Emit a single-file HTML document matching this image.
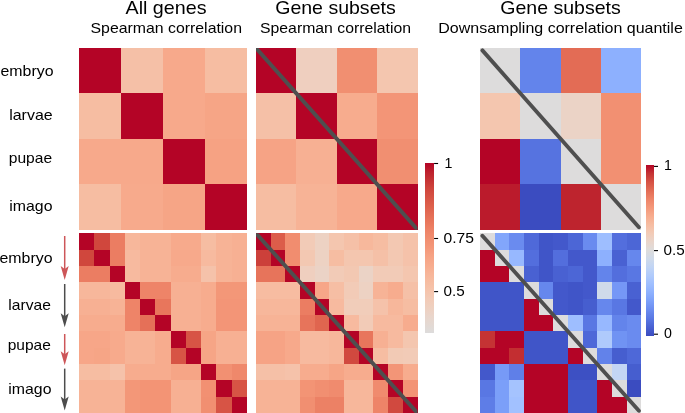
<!DOCTYPE html>
<html><head><meta charset="utf-8"><style>
html,body{margin:0;padding:0;background:#fff;}
body{width:685px;height:413px;overflow:hidden;font-family:"Liberation Sans",sans-serif;}
svg{display:block;}
svg line, svg path, svg text{shape-rendering:geometricPrecision;}
svg{will-change:transform;}
</style></head><body>
<svg width="685" height="413" viewBox="0 0 685 413" shape-rendering="crispEdges"><rect x="79.00" y="48.00" width="42.30" height="45.72" fill="#b40426"/>
<rect x="121.00" y="48.00" width="42.30" height="45.72" fill="#f5c0a7"/>
<rect x="163.00" y="48.00" width="42.30" height="45.72" fill="#f7a98b"/>
<rect x="205.00" y="48.00" width="42.00" height="45.72" fill="#f6bda2"/>
<rect x="79.00" y="93.42" width="42.30" height="45.72" fill="#f6bda2"/>
<rect x="121.00" y="93.42" width="42.30" height="45.72" fill="#b40426"/>
<rect x="163.00" y="93.42" width="42.30" height="45.72" fill="#f7a98b"/>
<rect x="205.00" y="93.42" width="42.00" height="45.72" fill="#f6a586"/>
<rect x="79.00" y="138.85" width="42.30" height="45.72" fill="#f7a98b"/>
<rect x="121.00" y="138.85" width="42.30" height="45.72" fill="#f7a98b"/>
<rect x="163.00" y="138.85" width="42.30" height="45.72" fill="#b40426"/>
<rect x="205.00" y="138.85" width="42.00" height="45.72" fill="#f6a283"/>
<rect x="79.00" y="184.27" width="42.30" height="45.42" fill="#f6bda2"/>
<rect x="121.00" y="184.27" width="42.30" height="45.42" fill="#f7aa8c"/>
<rect x="163.00" y="184.27" width="42.30" height="45.42" fill="#f6a586"/>
<rect x="205.00" y="184.27" width="42.00" height="45.42" fill="#b40426"/>
<rect x="256.00" y="48.00" width="40.67" height="45.72" fill="#b40426"/>
<rect x="296.38" y="48.00" width="40.67" height="45.72" fill="#efcfbf"/>
<rect x="336.75" y="48.00" width="40.67" height="45.72" fill="#f18f71"/>
<rect x="377.12" y="48.00" width="40.38" height="45.72" fill="#f4c6af"/>
<rect x="256.00" y="93.42" width="40.67" height="45.72" fill="#f5c0a7"/>
<rect x="296.38" y="93.42" width="40.67" height="45.72" fill="#b40426"/>
<rect x="336.75" y="93.42" width="40.67" height="45.72" fill="#f7ac8e"/>
<rect x="377.12" y="93.42" width="40.38" height="45.72" fill="#f39577"/>
<rect x="256.00" y="138.85" width="40.67" height="45.72" fill="#f6a385"/>
<rect x="296.38" y="138.85" width="40.67" height="45.72" fill="#f7b093"/>
<rect x="336.75" y="138.85" width="40.67" height="45.72" fill="#b40426"/>
<rect x="377.12" y="138.85" width="40.38" height="45.72" fill="#f18f71"/>
<rect x="256.00" y="184.27" width="40.67" height="45.42" fill="#f6bda2"/>
<rect x="296.38" y="184.27" width="40.67" height="45.42" fill="#f7b396"/>
<rect x="336.75" y="184.27" width="40.67" height="45.42" fill="#f7a98b"/>
<rect x="377.12" y="184.27" width="40.38" height="45.42" fill="#b40426"/>
<rect x="480.00" y="48.00" width="40.62" height="45.72" fill="#dddcdc"/>
<rect x="520.33" y="48.00" width="40.62" height="45.72" fill="#6384eb"/>
<rect x="560.65" y="48.00" width="40.62" height="45.72" fill="#e36c55"/>
<rect x="600.97" y="48.00" width="40.32" height="45.72" fill="#8db0fe"/>
<rect x="480.00" y="93.42" width="40.62" height="45.72" fill="#f4c6af"/>
<rect x="520.33" y="93.42" width="40.62" height="45.72" fill="#dddcdc"/>
<rect x="560.65" y="93.42" width="40.62" height="45.72" fill="#ebd3c6"/>
<rect x="600.97" y="93.42" width="40.32" height="45.72" fill="#f29072"/>
<rect x="480.00" y="138.85" width="40.62" height="45.72" fill="#b40426"/>
<rect x="520.33" y="138.85" width="40.62" height="45.72" fill="#5673e0"/>
<rect x="560.65" y="138.85" width="40.62" height="45.72" fill="#dddcdc"/>
<rect x="600.97" y="138.85" width="40.32" height="45.72" fill="#f29072"/>
<rect x="480.00" y="184.27" width="40.62" height="45.42" fill="#bb1b2c"/>
<rect x="520.33" y="184.27" width="40.62" height="45.42" fill="#3b4cc0"/>
<rect x="560.65" y="184.27" width="40.62" height="45.42" fill="#be242e"/>
<rect x="600.97" y="184.27" width="40.32" height="45.42" fill="#dddcdc"/>
<rect x="79.00" y="233.30" width="15.57" height="16.65" fill="#b40426"/>
<rect x="94.27" y="233.30" width="15.57" height="16.65" fill="#d0473d"/>
<rect x="109.55" y="233.30" width="15.57" height="16.65" fill="#eb7d62"/>
<rect x="124.82" y="233.30" width="15.57" height="16.65" fill="#f7b79b"/>
<rect x="140.09" y="233.30" width="15.57" height="16.65" fill="#f7b396"/>
<rect x="155.36" y="233.30" width="15.57" height="16.65" fill="#f7b396"/>
<rect x="170.64" y="233.30" width="15.57" height="16.65" fill="#f7aa8c"/>
<rect x="185.91" y="233.30" width="15.57" height="16.65" fill="#f7aa8c"/>
<rect x="201.18" y="233.30" width="15.57" height="16.65" fill="#f6bda2"/>
<rect x="216.45" y="233.30" width="15.57" height="16.65" fill="#f7b396"/>
<rect x="231.73" y="233.30" width="15.27" height="16.65" fill="#f7b093"/>
<rect x="79.00" y="249.65" width="15.57" height="16.65" fill="#d0473d"/>
<rect x="94.27" y="249.65" width="15.57" height="16.65" fill="#b40426"/>
<rect x="109.55" y="249.65" width="15.57" height="16.65" fill="#eb7d62"/>
<rect x="124.82" y="249.65" width="15.57" height="16.65" fill="#f7ba9f"/>
<rect x="140.09" y="249.65" width="15.57" height="16.65" fill="#f7b396"/>
<rect x="155.36" y="249.65" width="15.57" height="16.65" fill="#f7b396"/>
<rect x="170.64" y="249.65" width="15.57" height="16.65" fill="#f7a98b"/>
<rect x="185.91" y="249.65" width="15.57" height="16.65" fill="#f7a98b"/>
<rect x="201.18" y="249.65" width="15.57" height="16.65" fill="#f7ba9f"/>
<rect x="216.45" y="249.65" width="15.57" height="16.65" fill="#f7b396"/>
<rect x="231.73" y="249.65" width="15.27" height="16.65" fill="#f7b093"/>
<rect x="79.00" y="266.00" width="15.57" height="16.65" fill="#eb7d62"/>
<rect x="94.27" y="266.00" width="15.57" height="16.65" fill="#eb7d62"/>
<rect x="109.55" y="266.00" width="15.57" height="16.65" fill="#b40426"/>
<rect x="124.82" y="266.00" width="15.57" height="16.65" fill="#f7ba9f"/>
<rect x="140.09" y="266.00" width="15.57" height="16.65" fill="#f7b396"/>
<rect x="155.36" y="266.00" width="15.57" height="16.65" fill="#f7b396"/>
<rect x="170.64" y="266.00" width="15.57" height="16.65" fill="#f7ac8e"/>
<rect x="185.91" y="266.00" width="15.57" height="16.65" fill="#f7ac8e"/>
<rect x="201.18" y="266.00" width="15.57" height="16.65" fill="#f5c2aa"/>
<rect x="216.45" y="266.00" width="15.57" height="16.65" fill="#f7b396"/>
<rect x="231.73" y="266.00" width="15.27" height="16.65" fill="#f7b093"/>
<rect x="79.00" y="282.35" width="15.57" height="16.65" fill="#f7b79b"/>
<rect x="94.27" y="282.35" width="15.57" height="16.65" fill="#f7b79b"/>
<rect x="109.55" y="282.35" width="15.57" height="16.65" fill="#f7ba9f"/>
<rect x="124.82" y="282.35" width="15.57" height="16.65" fill="#b40426"/>
<rect x="140.09" y="282.35" width="15.57" height="16.65" fill="#ee8468"/>
<rect x="155.36" y="282.35" width="15.57" height="16.65" fill="#ee8468"/>
<rect x="170.64" y="282.35" width="15.57" height="16.65" fill="#f7b093"/>
<rect x="185.91" y="282.35" width="15.57" height="16.65" fill="#f7b093"/>
<rect x="201.18" y="282.35" width="15.57" height="16.65" fill="#f7ac8e"/>
<rect x="216.45" y="282.35" width="15.57" height="16.65" fill="#f39778"/>
<rect x="231.73" y="282.35" width="15.27" height="16.65" fill="#f39778"/>
<rect x="79.00" y="298.70" width="15.57" height="16.65" fill="#f7b093"/>
<rect x="94.27" y="298.70" width="15.57" height="16.65" fill="#f7b093"/>
<rect x="109.55" y="298.70" width="15.57" height="16.65" fill="#f7b396"/>
<rect x="124.82" y="298.70" width="15.57" height="16.65" fill="#ee8468"/>
<rect x="140.09" y="298.70" width="15.57" height="16.65" fill="#b40426"/>
<rect x="155.36" y="298.70" width="15.57" height="16.65" fill="#e8765c"/>
<rect x="170.64" y="298.70" width="15.57" height="16.65" fill="#f7b093"/>
<rect x="185.91" y="298.70" width="15.57" height="16.65" fill="#f7b093"/>
<rect x="201.18" y="298.70" width="15.57" height="16.65" fill="#f7ac8e"/>
<rect x="216.45" y="298.70" width="15.57" height="16.65" fill="#f39577"/>
<rect x="231.73" y="298.70" width="15.27" height="16.65" fill="#f39577"/>
<rect x="79.00" y="315.05" width="15.57" height="16.65" fill="#f7ac8e"/>
<rect x="94.27" y="315.05" width="15.57" height="16.65" fill="#f7ac8e"/>
<rect x="109.55" y="315.05" width="15.57" height="16.65" fill="#f7ac8e"/>
<rect x="124.82" y="315.05" width="15.57" height="16.65" fill="#ee8468"/>
<rect x="140.09" y="315.05" width="15.57" height="16.65" fill="#e57058"/>
<rect x="155.36" y="315.05" width="15.57" height="16.65" fill="#b40426"/>
<rect x="170.64" y="315.05" width="15.57" height="16.65" fill="#f7b093"/>
<rect x="185.91" y="315.05" width="15.57" height="16.65" fill="#f7b093"/>
<rect x="201.18" y="315.05" width="15.57" height="16.65" fill="#f7ac8e"/>
<rect x="216.45" y="315.05" width="15.57" height="16.65" fill="#f39577"/>
<rect x="231.73" y="315.05" width="15.27" height="16.65" fill="#f39577"/>
<rect x="79.00" y="331.40" width="15.57" height="16.65" fill="#f7a688"/>
<rect x="94.27" y="331.40" width="15.57" height="16.65" fill="#f7a688"/>
<rect x="109.55" y="331.40" width="15.57" height="16.65" fill="#f7aa8c"/>
<rect x="124.82" y="331.40" width="15.57" height="16.65" fill="#f7b396"/>
<rect x="140.09" y="331.40" width="15.57" height="16.65" fill="#f7b396"/>
<rect x="155.36" y="331.40" width="15.57" height="16.65" fill="#f7ac8e"/>
<rect x="170.64" y="331.40" width="15.57" height="16.65" fill="#b40426"/>
<rect x="185.91" y="331.40" width="15.57" height="16.65" fill="#d75445"/>
<rect x="201.18" y="331.40" width="15.57" height="16.65" fill="#f6a586"/>
<rect x="216.45" y="331.40" width="15.57" height="16.65" fill="#f7b093"/>
<rect x="231.73" y="331.40" width="15.27" height="16.65" fill="#f7b093"/>
<rect x="79.00" y="347.75" width="15.57" height="16.65" fill="#f7a688"/>
<rect x="94.27" y="347.75" width="15.57" height="16.65" fill="#f6a586"/>
<rect x="109.55" y="347.75" width="15.57" height="16.65" fill="#f7aa8c"/>
<rect x="124.82" y="347.75" width="15.57" height="16.65" fill="#f7b396"/>
<rect x="140.09" y="347.75" width="15.57" height="16.65" fill="#f7b396"/>
<rect x="155.36" y="347.75" width="15.57" height="16.65" fill="#f7ac8e"/>
<rect x="170.64" y="347.75" width="15.57" height="16.65" fill="#d75445"/>
<rect x="185.91" y="347.75" width="15.57" height="16.65" fill="#b40426"/>
<rect x="201.18" y="347.75" width="15.57" height="16.65" fill="#f6a586"/>
<rect x="216.45" y="347.75" width="15.57" height="16.65" fill="#f7b093"/>
<rect x="231.73" y="347.75" width="15.27" height="16.65" fill="#f7b093"/>
<rect x="79.00" y="364.10" width="15.57" height="16.65" fill="#f6bda2"/>
<rect x="94.27" y="364.10" width="15.57" height="16.65" fill="#f6bda2"/>
<rect x="109.55" y="364.10" width="15.57" height="16.65" fill="#f5c2aa"/>
<rect x="124.82" y="364.10" width="15.57" height="16.65" fill="#f7ac8e"/>
<rect x="140.09" y="364.10" width="15.57" height="16.65" fill="#f7ac8e"/>
<rect x="155.36" y="364.10" width="15.57" height="16.65" fill="#f7ac8e"/>
<rect x="170.64" y="364.10" width="15.57" height="16.65" fill="#f6a586"/>
<rect x="185.91" y="364.10" width="15.57" height="16.65" fill="#f6a586"/>
<rect x="201.18" y="364.10" width="15.57" height="16.65" fill="#b40426"/>
<rect x="216.45" y="364.10" width="15.57" height="16.65" fill="#f29072"/>
<rect x="231.73" y="364.10" width="15.27" height="16.65" fill="#ef886b"/>
<rect x="79.00" y="380.45" width="15.57" height="16.65" fill="#f7b396"/>
<rect x="94.27" y="380.45" width="15.57" height="16.65" fill="#f7b396"/>
<rect x="109.55" y="380.45" width="15.57" height="16.65" fill="#f7b396"/>
<rect x="124.82" y="380.45" width="15.57" height="16.65" fill="#f39778"/>
<rect x="140.09" y="380.45" width="15.57" height="16.65" fill="#f39475"/>
<rect x="155.36" y="380.45" width="15.57" height="16.65" fill="#f39475"/>
<rect x="170.64" y="380.45" width="15.57" height="16.65" fill="#f7b093"/>
<rect x="185.91" y="380.45" width="15.57" height="16.65" fill="#f7b093"/>
<rect x="201.18" y="380.45" width="15.57" height="16.65" fill="#f29072"/>
<rect x="216.45" y="380.45" width="15.57" height="16.65" fill="#b40426"/>
<rect x="231.73" y="380.45" width="15.27" height="16.65" fill="#d75445"/>
<rect x="79.00" y="396.80" width="15.57" height="16.35" fill="#f7b396"/>
<rect x="94.27" y="396.80" width="15.57" height="16.35" fill="#f7b396"/>
<rect x="109.55" y="396.80" width="15.57" height="16.35" fill="#f7b396"/>
<rect x="124.82" y="396.80" width="15.57" height="16.35" fill="#f39778"/>
<rect x="140.09" y="396.80" width="15.57" height="16.35" fill="#f39475"/>
<rect x="155.36" y="396.80" width="15.57" height="16.35" fill="#f39475"/>
<rect x="170.64" y="396.80" width="15.57" height="16.35" fill="#f7b093"/>
<rect x="185.91" y="396.80" width="15.57" height="16.35" fill="#f7b093"/>
<rect x="201.18" y="396.80" width="15.57" height="16.35" fill="#f18f71"/>
<rect x="216.45" y="396.80" width="15.57" height="16.35" fill="#d75445"/>
<rect x="231.73" y="396.80" width="15.27" height="16.35" fill="#b40426"/>
<rect x="256.00" y="233.30" width="14.98" height="16.65" fill="#b40426"/>
<rect x="270.68" y="233.30" width="14.98" height="16.65" fill="#dc5d4a"/>
<rect x="285.36" y="233.30" width="14.98" height="16.65" fill="#f18d6f"/>
<rect x="300.05" y="233.30" width="14.98" height="16.65" fill="#f2cbb7"/>
<rect x="314.73" y="233.30" width="14.98" height="16.65" fill="#edd2c3"/>
<rect x="329.41" y="233.30" width="14.98" height="16.65" fill="#f4c6af"/>
<rect x="344.09" y="233.30" width="14.98" height="16.65" fill="#f5c0a7"/>
<rect x="358.77" y="233.30" width="14.98" height="16.65" fill="#f7b89c"/>
<rect x="373.45" y="233.30" width="14.98" height="16.65" fill="#f6bda2"/>
<rect x="388.14" y="233.30" width="14.98" height="16.65" fill="#f3c8b2"/>
<rect x="402.82" y="233.30" width="14.68" height="16.65" fill="#f5c2aa"/>
<rect x="256.00" y="249.65" width="14.98" height="16.65" fill="#cc403a"/>
<rect x="270.68" y="249.65" width="14.98" height="16.65" fill="#b40426"/>
<rect x="285.36" y="249.65" width="14.98" height="16.65" fill="#f18d6f"/>
<rect x="300.05" y="249.65" width="14.98" height="16.65" fill="#f3c8b2"/>
<rect x="314.73" y="249.65" width="14.98" height="16.65" fill="#edd2c3"/>
<rect x="329.41" y="249.65" width="14.98" height="16.65" fill="#f6bda2"/>
<rect x="344.09" y="249.65" width="14.98" height="16.65" fill="#f4c6af"/>
<rect x="358.77" y="249.65" width="14.98" height="16.65" fill="#f4c6af"/>
<rect x="373.45" y="249.65" width="14.98" height="16.65" fill="#f5c0a7"/>
<rect x="388.14" y="249.65" width="14.98" height="16.65" fill="#f3c8b2"/>
<rect x="402.82" y="249.65" width="14.68" height="16.65" fill="#f5c2aa"/>
<rect x="256.00" y="266.00" width="14.98" height="16.65" fill="#e7745b"/>
<rect x="270.68" y="266.00" width="14.98" height="16.65" fill="#e7745b"/>
<rect x="285.36" y="266.00" width="14.98" height="16.65" fill="#b40426"/>
<rect x="300.05" y="266.00" width="14.98" height="16.65" fill="#efcfbf"/>
<rect x="314.73" y="266.00" width="14.98" height="16.65" fill="#ebd3c6"/>
<rect x="329.41" y="266.00" width="14.98" height="16.65" fill="#f2cbb7"/>
<rect x="344.09" y="266.00" width="14.98" height="16.65" fill="#f3c8b2"/>
<rect x="358.77" y="266.00" width="14.98" height="16.65" fill="#ebd3c6"/>
<rect x="373.45" y="266.00" width="14.98" height="16.65" fill="#f2cbb7"/>
<rect x="388.14" y="266.00" width="14.98" height="16.65" fill="#f2cbb7"/>
<rect x="402.82" y="266.00" width="14.68" height="16.65" fill="#f4c6af"/>
<rect x="256.00" y="282.35" width="14.98" height="16.65" fill="#f7bca1"/>
<rect x="270.68" y="282.35" width="14.98" height="16.65" fill="#f7bca1"/>
<rect x="285.36" y="282.35" width="14.98" height="16.65" fill="#f7bca1"/>
<rect x="300.05" y="282.35" width="14.98" height="16.65" fill="#b40426"/>
<rect x="314.73" y="282.35" width="14.98" height="16.65" fill="#f7a688"/>
<rect x="329.41" y="282.35" width="14.98" height="16.65" fill="#f6bea4"/>
<rect x="344.09" y="282.35" width="14.98" height="16.65" fill="#f2cbb7"/>
<rect x="358.77" y="282.35" width="14.98" height="16.65" fill="#edd2c3"/>
<rect x="373.45" y="282.35" width="14.98" height="16.65" fill="#f7b396"/>
<rect x="388.14" y="282.35" width="14.98" height="16.65" fill="#f7ac8e"/>
<rect x="402.82" y="282.35" width="14.68" height="16.65" fill="#f5c0a7"/>
<rect x="256.00" y="298.70" width="14.98" height="16.65" fill="#f7b79b"/>
<rect x="270.68" y="298.70" width="14.98" height="16.65" fill="#f7b79b"/>
<rect x="285.36" y="298.70" width="14.98" height="16.65" fill="#f7b79b"/>
<rect x="300.05" y="298.70" width="14.98" height="16.65" fill="#eb7d62"/>
<rect x="314.73" y="298.70" width="14.98" height="16.65" fill="#b40426"/>
<rect x="329.41" y="298.70" width="14.98" height="16.65" fill="#f7ba9f"/>
<rect x="344.09" y="298.70" width="14.98" height="16.65" fill="#f1cdba"/>
<rect x="358.77" y="298.70" width="14.98" height="16.65" fill="#f1cdba"/>
<rect x="373.45" y="298.70" width="14.98" height="16.65" fill="#f5c2aa"/>
<rect x="388.14" y="298.70" width="14.98" height="16.65" fill="#f7b79b"/>
<rect x="402.82" y="298.70" width="14.68" height="16.65" fill="#f6bda2"/>
<rect x="256.00" y="315.05" width="14.98" height="16.65" fill="#f7b396"/>
<rect x="270.68" y="315.05" width="14.98" height="16.65" fill="#f7b396"/>
<rect x="285.36" y="315.05" width="14.98" height="16.65" fill="#f7b396"/>
<rect x="300.05" y="315.05" width="14.98" height="16.65" fill="#e7745b"/>
<rect x="314.73" y="315.05" width="14.98" height="16.65" fill="#e0654f"/>
<rect x="329.41" y="315.05" width="14.98" height="16.65" fill="#b40426"/>
<rect x="344.09" y="315.05" width="14.98" height="16.65" fill="#f7ba9f"/>
<rect x="358.77" y="315.05" width="14.98" height="16.65" fill="#f2cbb7"/>
<rect x="373.45" y="315.05" width="14.98" height="16.65" fill="#f7ba9f"/>
<rect x="388.14" y="315.05" width="14.98" height="16.65" fill="#f7ba9f"/>
<rect x="402.82" y="315.05" width="14.68" height="16.65" fill="#f7ac8e"/>
<rect x="256.00" y="331.40" width="14.98" height="16.65" fill="#f6a385"/>
<rect x="270.68" y="331.40" width="14.98" height="16.65" fill="#f6a385"/>
<rect x="285.36" y="331.40" width="14.98" height="16.65" fill="#f7a98b"/>
<rect x="300.05" y="331.40" width="14.98" height="16.65" fill="#f7ba9f"/>
<rect x="314.73" y="331.40" width="14.98" height="16.65" fill="#f7ba9f"/>
<rect x="329.41" y="331.40" width="14.98" height="16.65" fill="#f7b79b"/>
<rect x="344.09" y="331.40" width="14.98" height="16.65" fill="#b40426"/>
<rect x="358.77" y="331.40" width="14.98" height="16.65" fill="#e8765c"/>
<rect x="373.45" y="331.40" width="14.98" height="16.65" fill="#f7b093"/>
<rect x="388.14" y="331.40" width="14.98" height="16.65" fill="#f7ba9f"/>
<rect x="402.82" y="331.40" width="14.68" height="16.65" fill="#f4c6af"/>
<rect x="256.00" y="347.75" width="14.98" height="16.65" fill="#f6a385"/>
<rect x="270.68" y="347.75" width="14.98" height="16.65" fill="#f6a385"/>
<rect x="285.36" y="347.75" width="14.98" height="16.65" fill="#f7a98b"/>
<rect x="300.05" y="347.75" width="14.98" height="16.65" fill="#f7ba9f"/>
<rect x="314.73" y="347.75" width="14.98" height="16.65" fill="#f7ba9f"/>
<rect x="329.41" y="347.75" width="14.98" height="16.65" fill="#f7b79b"/>
<rect x="344.09" y="347.75" width="14.98" height="16.65" fill="#d1493f"/>
<rect x="358.77" y="347.75" width="14.98" height="16.65" fill="#b40426"/>
<rect x="373.45" y="347.75" width="14.98" height="16.65" fill="#f6bda2"/>
<rect x="388.14" y="347.75" width="14.98" height="16.65" fill="#f2cab5"/>
<rect x="402.82" y="347.75" width="14.68" height="16.65" fill="#f2cbb7"/>
<rect x="256.00" y="364.10" width="14.98" height="16.65" fill="#f5c0a7"/>
<rect x="270.68" y="364.10" width="14.98" height="16.65" fill="#f5c0a7"/>
<rect x="285.36" y="364.10" width="14.98" height="16.65" fill="#f5c2aa"/>
<rect x="300.05" y="364.10" width="14.98" height="16.65" fill="#f7ac8e"/>
<rect x="314.73" y="364.10" width="14.98" height="16.65" fill="#f7ac8e"/>
<rect x="329.41" y="364.10" width="14.98" height="16.65" fill="#f6a586"/>
<rect x="344.09" y="364.10" width="14.98" height="16.65" fill="#f7ac8e"/>
<rect x="358.77" y="364.10" width="14.98" height="16.65" fill="#f7ac8e"/>
<rect x="373.45" y="364.10" width="14.98" height="16.65" fill="#b40426"/>
<rect x="388.14" y="364.10" width="14.98" height="16.65" fill="#f39577"/>
<rect x="402.82" y="364.10" width="14.68" height="16.65" fill="#f7ac8e"/>
<rect x="256.00" y="380.45" width="14.98" height="16.65" fill="#f7b396"/>
<rect x="270.68" y="380.45" width="14.98" height="16.65" fill="#f7b396"/>
<rect x="285.36" y="380.45" width="14.98" height="16.65" fill="#f7b396"/>
<rect x="300.05" y="380.45" width="14.98" height="16.65" fill="#f39475"/>
<rect x="314.73" y="380.45" width="14.98" height="16.65" fill="#f18f71"/>
<rect x="329.41" y="380.45" width="14.98" height="16.65" fill="#f08b6e"/>
<rect x="344.09" y="380.45" width="14.98" height="16.65" fill="#f7b79b"/>
<rect x="358.77" y="380.45" width="14.98" height="16.65" fill="#f7b79b"/>
<rect x="373.45" y="380.45" width="14.98" height="16.65" fill="#f08b6e"/>
<rect x="388.14" y="380.45" width="14.98" height="16.65" fill="#b40426"/>
<rect x="402.82" y="380.45" width="14.68" height="16.65" fill="#f39475"/>
<rect x="256.00" y="396.80" width="14.98" height="16.35" fill="#f7b396"/>
<rect x="270.68" y="396.80" width="14.98" height="16.35" fill="#f7b396"/>
<rect x="285.36" y="396.80" width="14.98" height="16.35" fill="#f7b396"/>
<rect x="300.05" y="396.80" width="14.98" height="16.35" fill="#f18f71"/>
<rect x="314.73" y="396.80" width="14.98" height="16.35" fill="#ec8165"/>
<rect x="329.41" y="396.80" width="14.98" height="16.35" fill="#ec8165"/>
<rect x="344.09" y="396.80" width="14.98" height="16.35" fill="#f7b79b"/>
<rect x="358.77" y="396.80" width="14.98" height="16.35" fill="#f7b79b"/>
<rect x="373.45" y="396.80" width="14.98" height="16.35" fill="#ee8468"/>
<rect x="388.14" y="396.80" width="14.98" height="16.35" fill="#d1493f"/>
<rect x="402.82" y="396.80" width="14.68" height="16.35" fill="#b40426"/>
<rect x="480.00" y="233.30" width="14.96" height="16.65" fill="#dddcdc"/>
<rect x="494.66" y="233.30" width="14.96" height="16.65" fill="#82a6fb"/>
<rect x="509.33" y="233.30" width="14.96" height="16.65" fill="#6a8bef"/>
<rect x="523.99" y="233.30" width="14.96" height="16.65" fill="#4f69d9"/>
<rect x="538.65" y="233.30" width="14.96" height="16.65" fill="#4055c8"/>
<rect x="553.32" y="233.30" width="14.96" height="16.65" fill="#4358cb"/>
<rect x="567.98" y="233.30" width="14.96" height="16.65" fill="#4c66d6"/>
<rect x="582.65" y="233.30" width="14.96" height="16.65" fill="#6a8bef"/>
<rect x="597.31" y="233.30" width="14.96" height="16.65" fill="#9ebeff"/>
<rect x="611.97" y="233.30" width="14.96" height="16.65" fill="#536edd"/>
<rect x="626.64" y="233.30" width="14.66" height="16.65" fill="#4c66d6"/>
<rect x="480.00" y="249.65" width="14.96" height="16.65" fill="#b40426"/>
<rect x="494.66" y="249.65" width="14.96" height="16.65" fill="#dddcdc"/>
<rect x="509.33" y="249.65" width="14.96" height="16.65" fill="#97b8ff"/>
<rect x="523.99" y="249.65" width="14.96" height="16.65" fill="#536edd"/>
<rect x="538.65" y="249.65" width="14.96" height="16.65" fill="#4055c8"/>
<rect x="553.32" y="249.65" width="14.96" height="16.65" fill="#536edd"/>
<rect x="567.98" y="249.65" width="14.96" height="16.65" fill="#4358cb"/>
<rect x="582.65" y="249.65" width="14.96" height="16.65" fill="#4358cb"/>
<rect x="597.31" y="249.65" width="14.96" height="16.65" fill="#8db0fe"/>
<rect x="611.97" y="249.65" width="14.96" height="16.65" fill="#4961d2"/>
<rect x="626.64" y="249.65" width="14.66" height="16.65" fill="#6687ed"/>
<rect x="480.00" y="266.00" width="14.96" height="16.65" fill="#b40426"/>
<rect x="494.66" y="266.00" width="14.96" height="16.65" fill="#b40426"/>
<rect x="509.33" y="266.00" width="14.96" height="16.65" fill="#dddcdc"/>
<rect x="523.99" y="266.00" width="14.96" height="16.65" fill="#4961d2"/>
<rect x="538.65" y="266.00" width="14.96" height="16.65" fill="#4055c8"/>
<rect x="553.32" y="266.00" width="14.96" height="16.65" fill="#4961d2"/>
<rect x="567.98" y="266.00" width="14.96" height="16.65" fill="#4c66d6"/>
<rect x="582.65" y="266.00" width="14.96" height="16.65" fill="#4358cb"/>
<rect x="597.31" y="266.00" width="14.96" height="16.65" fill="#6384eb"/>
<rect x="611.97" y="266.00" width="14.96" height="16.65" fill="#536edd"/>
<rect x="626.64" y="266.00" width="14.66" height="16.65" fill="#5977e3"/>
<rect x="480.00" y="282.35" width="14.96" height="16.65" fill="#4055c8"/>
<rect x="494.66" y="282.35" width="14.96" height="16.65" fill="#4055c8"/>
<rect x="509.33" y="282.35" width="14.96" height="16.65" fill="#4055c8"/>
<rect x="523.99" y="282.35" width="14.96" height="16.65" fill="#dddcdc"/>
<rect x="538.65" y="282.35" width="14.96" height="16.65" fill="#6687ed"/>
<rect x="553.32" y="282.35" width="14.96" height="16.65" fill="#4358cb"/>
<rect x="567.98" y="282.35" width="14.96" height="16.65" fill="#4055c8"/>
<rect x="582.65" y="282.35" width="14.96" height="16.65" fill="#4358cb"/>
<rect x="597.31" y="282.35" width="14.96" height="16.65" fill="#cfdaea"/>
<rect x="611.97" y="282.35" width="14.96" height="16.65" fill="#7597f6"/>
<rect x="626.64" y="282.35" width="14.66" height="16.65" fill="#4961d2"/>
<rect x="480.00" y="298.70" width="14.96" height="16.65" fill="#4055c8"/>
<rect x="494.66" y="298.70" width="14.96" height="16.65" fill="#4055c8"/>
<rect x="509.33" y="298.70" width="14.96" height="16.65" fill="#4055c8"/>
<rect x="523.99" y="298.70" width="14.96" height="16.65" fill="#b40426"/>
<rect x="538.65" y="298.70" width="14.96" height="16.65" fill="#dddcdc"/>
<rect x="553.32" y="298.70" width="14.96" height="16.65" fill="#4358cb"/>
<rect x="567.98" y="298.70" width="14.96" height="16.65" fill="#4055c8"/>
<rect x="582.65" y="298.70" width="14.96" height="16.65" fill="#465ecf"/>
<rect x="597.31" y="298.70" width="14.96" height="16.65" fill="#6687ed"/>
<rect x="611.97" y="298.70" width="14.96" height="16.65" fill="#5977e3"/>
<rect x="626.64" y="298.70" width="14.66" height="16.65" fill="#4358cb"/>
<rect x="480.00" y="315.05" width="14.96" height="16.65" fill="#4055c8"/>
<rect x="494.66" y="315.05" width="14.96" height="16.65" fill="#4055c8"/>
<rect x="509.33" y="315.05" width="14.96" height="16.65" fill="#4055c8"/>
<rect x="523.99" y="315.05" width="14.96" height="16.65" fill="#b40426"/>
<rect x="538.65" y="315.05" width="14.96" height="16.65" fill="#b40426"/>
<rect x="553.32" y="315.05" width="14.96" height="16.65" fill="#dddcdc"/>
<rect x="567.98" y="315.05" width="14.96" height="16.65" fill="#9ebeff"/>
<rect x="582.65" y="315.05" width="14.96" height="16.65" fill="#5977e3"/>
<rect x="597.31" y="315.05" width="14.96" height="16.65" fill="#97b8ff"/>
<rect x="611.97" y="315.05" width="14.96" height="16.65" fill="#6384eb"/>
<rect x="626.64" y="315.05" width="14.66" height="16.65" fill="#6a8bef"/>
<rect x="480.00" y="331.40" width="14.96" height="16.65" fill="#c53334"/>
<rect x="494.66" y="331.40" width="14.96" height="16.65" fill="#b40426"/>
<rect x="509.33" y="331.40" width="14.96" height="16.65" fill="#b40426"/>
<rect x="523.99" y="331.40" width="14.96" height="16.65" fill="#4055c8"/>
<rect x="538.65" y="331.40" width="14.96" height="16.65" fill="#4055c8"/>
<rect x="553.32" y="331.40" width="14.96" height="16.65" fill="#4055c8"/>
<rect x="567.98" y="331.40" width="14.96" height="16.65" fill="#dddcdc"/>
<rect x="582.65" y="331.40" width="14.96" height="16.65" fill="#4e68d8"/>
<rect x="597.31" y="331.40" width="14.96" height="16.65" fill="#afcafc"/>
<rect x="611.97" y="331.40" width="14.96" height="16.65" fill="#7093f3"/>
<rect x="626.64" y="331.40" width="14.66" height="16.65" fill="#6a8bef"/>
<rect x="480.00" y="347.75" width="14.96" height="16.65" fill="#b40426"/>
<rect x="494.66" y="347.75" width="14.96" height="16.65" fill="#b40426"/>
<rect x="509.33" y="347.75" width="14.96" height="16.65" fill="#c32e31"/>
<rect x="523.99" y="347.75" width="14.96" height="16.65" fill="#4055c8"/>
<rect x="538.65" y="347.75" width="14.96" height="16.65" fill="#4055c8"/>
<rect x="553.32" y="347.75" width="14.96" height="16.65" fill="#4055c8"/>
<rect x="567.98" y="347.75" width="14.96" height="16.65" fill="#b40426"/>
<rect x="582.65" y="347.75" width="14.96" height="16.65" fill="#dddcdc"/>
<rect x="597.31" y="347.75" width="14.96" height="16.65" fill="#6282ea"/>
<rect x="611.97" y="347.75" width="14.96" height="16.65" fill="#465ecf"/>
<rect x="626.64" y="347.75" width="14.66" height="16.65" fill="#4e68d8"/>
<rect x="480.00" y="364.10" width="14.96" height="16.65" fill="#4358cb"/>
<rect x="494.66" y="364.10" width="14.96" height="16.65" fill="#779af7"/>
<rect x="509.33" y="364.10" width="14.96" height="16.65" fill="#5f7fe8"/>
<rect x="523.99" y="364.10" width="14.96" height="16.65" fill="#b40426"/>
<rect x="538.65" y="364.10" width="14.96" height="16.65" fill="#b40426"/>
<rect x="553.32" y="364.10" width="14.96" height="16.65" fill="#b40426"/>
<rect x="567.98" y="364.10" width="14.96" height="16.65" fill="#3d50c3"/>
<rect x="582.65" y="364.10" width="14.96" height="16.65" fill="#3d50c3"/>
<rect x="597.31" y="364.10" width="14.96" height="16.65" fill="#dddcdc"/>
<rect x="611.97" y="364.10" width="14.96" height="16.65" fill="#c3d5f4"/>
<rect x="626.64" y="364.10" width="14.66" height="16.65" fill="#465ecf"/>
<rect x="480.00" y="380.45" width="14.96" height="16.65" fill="#5977e3"/>
<rect x="494.66" y="380.45" width="14.96" height="16.65" fill="#7b9ff9"/>
<rect x="509.33" y="380.45" width="14.96" height="16.65" fill="#a5c3fe"/>
<rect x="523.99" y="380.45" width="14.96" height="16.65" fill="#b40426"/>
<rect x="538.65" y="380.45" width="14.96" height="16.65" fill="#b40426"/>
<rect x="553.32" y="380.45" width="14.96" height="16.65" fill="#b40426"/>
<rect x="567.98" y="380.45" width="14.96" height="16.65" fill="#4055c8"/>
<rect x="582.65" y="380.45" width="14.96" height="16.65" fill="#4055c8"/>
<rect x="597.31" y="380.45" width="14.96" height="16.65" fill="#b40426"/>
<rect x="611.97" y="380.45" width="14.96" height="16.65" fill="#dddcdc"/>
<rect x="626.64" y="380.45" width="14.66" height="16.65" fill="#3b4cc0"/>
<rect x="480.00" y="396.80" width="14.96" height="16.35" fill="#5e7de7"/>
<rect x="494.66" y="396.80" width="14.96" height="16.35" fill="#7b9ff9"/>
<rect x="509.33" y="396.80" width="14.96" height="16.35" fill="#a2c1ff"/>
<rect x="523.99" y="396.80" width="14.96" height="16.35" fill="#b40426"/>
<rect x="538.65" y="396.80" width="14.96" height="16.35" fill="#b40426"/>
<rect x="553.32" y="396.80" width="14.96" height="16.35" fill="#b40426"/>
<rect x="567.98" y="396.80" width="14.96" height="16.35" fill="#4055c8"/>
<rect x="582.65" y="396.80" width="14.96" height="16.35" fill="#4055c8"/>
<rect x="597.31" y="396.80" width="14.96" height="16.35" fill="#b40426"/>
<rect x="611.97" y="396.80" width="14.96" height="16.35" fill="#b40426"/>
<rect x="626.64" y="396.80" width="14.66" height="16.35" fill="#dddcdc"/>
<clipPath id="c1"><rect x="256" y="48" width="161.5" height="181.7"/></clipPath>
<line x1="256" y1="48" x2="417.5" y2="229.7" stroke="#4f4f4f" stroke-width="3.9" stroke-linecap="round" clip-path="url(#c1)"/>
<clipPath id="c2"><rect x="256" y="233.3" width="161.5" height="179.85000000000002"/></clipPath>
<line x1="256" y1="233.3" x2="417.5" y2="413.15000000000003" stroke="#4f4f4f" stroke-width="3.9" stroke-linecap="round" clip-path="url(#c2)"/>
<line x1="482.4" y1="50.4" x2="638.9" y2="227.29999999999998" stroke="#4f4f4f" stroke-width="3.9" stroke-linecap="round"/>
<line x1="482.4" y1="235.70000000000002" x2="638.9" y2="410.75000000000006" stroke="#4f4f4f" stroke-width="3.9" stroke-linecap="round"/>
<linearGradient id="g1" x1="0" y1="0" x2="0" y2="1"><stop offset="0.000" stop-color="#b40426"/><stop offset="0.050" stop-color="#bd1f2d"/><stop offset="0.100" stop-color="#c53334"/><stop offset="0.150" stop-color="#cf453c"/><stop offset="0.200" stop-color="#d65244"/><stop offset="0.250" stop-color="#dd5f4b"/><stop offset="0.300" stop-color="#e36c55"/><stop offset="0.350" stop-color="#e9785d"/><stop offset="0.400" stop-color="#ee8468"/><stop offset="0.450" stop-color="#f18f71"/><stop offset="0.500" stop-color="#f4987a"/><stop offset="0.550" stop-color="#f6a385"/><stop offset="0.600" stop-color="#f7ac8e"/><stop offset="0.650" stop-color="#f7b599"/><stop offset="0.700" stop-color="#f6bda2"/><stop offset="0.750" stop-color="#f5c4ac"/><stop offset="0.800" stop-color="#f2cbb7"/><stop offset="0.850" stop-color="#eed0c0"/><stop offset="0.900" stop-color="#e9d5cb"/><stop offset="0.950" stop-color="#e3d9d3"/><stop offset="1.000" stop-color="#dddcdc"/></linearGradient>
<rect x="425.10" y="163.00" width="9.00" height="170.30" fill="url(#g1)"/>
<linearGradient id="g2" x1="0" y1="0" x2="0" y2="1"><stop offset="0.000" stop-color="#b40426"/><stop offset="0.050" stop-color="#c53334"/><stop offset="0.100" stop-color="#d65244"/><stop offset="0.150" stop-color="#e36c55"/><stop offset="0.200" stop-color="#ee8468"/><stop offset="0.250" stop-color="#f4987a"/><stop offset="0.300" stop-color="#f7ac8e"/><stop offset="0.350" stop-color="#f6bda2"/><stop offset="0.400" stop-color="#f2cbb7"/><stop offset="0.450" stop-color="#e9d5cb"/><stop offset="0.500" stop-color="#dddcdc"/><stop offset="0.550" stop-color="#cfdaea"/><stop offset="0.600" stop-color="#c0d4f5"/><stop offset="0.650" stop-color="#afcafc"/><stop offset="0.700" stop-color="#9ebeff"/><stop offset="0.750" stop-color="#8db0fe"/><stop offset="0.800" stop-color="#7b9ff9"/><stop offset="0.850" stop-color="#6a8bef"/><stop offset="0.900" stop-color="#5977e3"/><stop offset="0.950" stop-color="#4961d2"/><stop offset="1.000" stop-color="#3b4cc0"/></linearGradient>
<rect x="646.00" y="165.00" width="8.00" height="170.80" fill="url(#g2)"/>
<line x1="434.1" y1="163.5" x2="438.1" y2="163.5" stroke="#000" stroke-width="1.1"/>
<line x1="434.1" y1="238.5" x2="438.1" y2="238.5" stroke="#000" stroke-width="1.1"/>
<line x1="434.1" y1="291.6" x2="438.1" y2="291.6" stroke="#000" stroke-width="1.1"/>
<line x1="654.0" y1="166.4" x2="658.0" y2="166.4" stroke="#000" stroke-width="1.1"/>
<line x1="654.0" y1="250.6" x2="658.0" y2="250.6" stroke="#000" stroke-width="1.1"/>
<line x1="654.0" y1="334.2" x2="658.0" y2="334.2" stroke="#000" stroke-width="1.1"/>
<text x="125.50" y="13.80" font-size="17.8" font-family="Liberation Sans, sans-serif" fill="#000" text-anchor="start" textLength="81.00" lengthAdjust="spacingAndGlyphs">All genes</text>
<text x="90.50" y="32.60" font-size="13.9" font-family="Liberation Sans, sans-serif" fill="#000" text-anchor="start" textLength="151.50" lengthAdjust="spacingAndGlyphs">Spearman correlation</text>
<text x="275.20" y="14.00" font-size="17.8" font-family="Liberation Sans, sans-serif" fill="#000" text-anchor="start" textLength="120.50" lengthAdjust="spacingAndGlyphs">Gene subsets</text>
<text x="260.00" y="32.80" font-size="13.9" font-family="Liberation Sans, sans-serif" fill="#000" text-anchor="start" textLength="151.00" lengthAdjust="spacingAndGlyphs">Spearman correlation</text>
<text x="500.30" y="14.00" font-size="17.8" font-family="Liberation Sans, sans-serif" fill="#000" text-anchor="start" textLength="120.50" lengthAdjust="spacingAndGlyphs">Gene subsets</text>
<text x="438.30" y="32.80" font-size="13.9" font-family="Liberation Sans, sans-serif" fill="#000" text-anchor="start" textLength="244.50" lengthAdjust="spacingAndGlyphs">Downsampling correlation quantile</text>
<text x="0.50" y="76.30" font-size="14.2" font-family="Liberation Sans, sans-serif" fill="#000" text-anchor="start" textLength="53.00" lengthAdjust="spacingAndGlyphs">embryo</text>
<text x="9.20" y="120.20" font-size="14.2" font-family="Liberation Sans, sans-serif" fill="#000" text-anchor="start" textLength="43.50" lengthAdjust="spacingAndGlyphs">larvae</text>
<text x="8.80" y="163.20" font-size="14.2" font-family="Liberation Sans, sans-serif" fill="#000" text-anchor="start" textLength="43.30" lengthAdjust="spacingAndGlyphs">pupae</text>
<text x="9.30" y="210.60" font-size="14.2" font-family="Liberation Sans, sans-serif" fill="#000" text-anchor="start" textLength="43.20" lengthAdjust="spacingAndGlyphs">imago</text>
<text x="-0.50" y="262.60" font-size="14.2" font-family="Liberation Sans, sans-serif" fill="#000" text-anchor="start" textLength="53.00" lengthAdjust="spacingAndGlyphs">embryo</text>
<text x="8.30" y="309.70" font-size="14.2" font-family="Liberation Sans, sans-serif" fill="#000" text-anchor="start" textLength="42.60" lengthAdjust="spacingAndGlyphs">larvae</text>
<text x="7.70" y="350.00" font-size="14.2" font-family="Liberation Sans, sans-serif" fill="#000" text-anchor="start" textLength="43.20" lengthAdjust="spacingAndGlyphs">pupae</text>
<text x="8.30" y="393.90" font-size="14.2" font-family="Liberation Sans, sans-serif" fill="#000" text-anchor="start" textLength="43.20" lengthAdjust="spacingAndGlyphs">imago</text>
<text x="444.50" y="167.80" font-size="14.2" font-family="Liberation Sans, sans-serif" fill="#000" text-anchor="start">1</text>
<text x="443.50" y="243.10" font-size="14.2" font-family="Liberation Sans, sans-serif" fill="#000" text-anchor="start" textLength="30.50" lengthAdjust="spacingAndGlyphs">0.75</text>
<text x="443.50" y="295.80" font-size="14.2" font-family="Liberation Sans, sans-serif" fill="#000" text-anchor="start" textLength="21.20" lengthAdjust="spacingAndGlyphs">0.5</text>
<text x="664.00" y="170.10" font-size="14.2" font-family="Liberation Sans, sans-serif" fill="#000" text-anchor="start">1</text>
<text x="663.50" y="255.00" font-size="14.2" font-family="Liberation Sans, sans-serif" fill="#000" text-anchor="start" textLength="21.20" lengthAdjust="spacingAndGlyphs">0.5</text>
<text x="664.00" y="338.10" font-size="14.2" font-family="Liberation Sans, sans-serif" fill="#000" text-anchor="start">0</text>
<line x1="64.7" y1="236" x2="64.7" y2="270" stroke="#cd5659" stroke-width="1.5"/>
<path d="M60.7,266 L64.7,269 L68.7,266 L64.7,280 Z" fill="#cd5659"/>
<line x1="64.7" y1="284" x2="64.7" y2="317.3" stroke="#4d4d4d" stroke-width="1.5"/>
<path d="M60.7,313.3 L64.7,316.3 L68.7,313.3 L64.7,327.3 Z" fill="#4d4d4d"/>
<line x1="64.7" y1="334" x2="64.7" y2="355.2" stroke="#cd5659" stroke-width="1.5"/>
<path d="M60.7,351.2 L64.7,354.2 L68.7,351.2 L64.7,365.2 Z" fill="#cd5659"/>
<line x1="64.7" y1="368.6" x2="64.7" y2="400.4" stroke="#4d4d4d" stroke-width="1.5"/>
<path d="M60.7,396.4 L64.7,399.4 L68.7,396.4 L64.7,410.4 Z" fill="#4d4d4d"/></svg>
</body></html>
